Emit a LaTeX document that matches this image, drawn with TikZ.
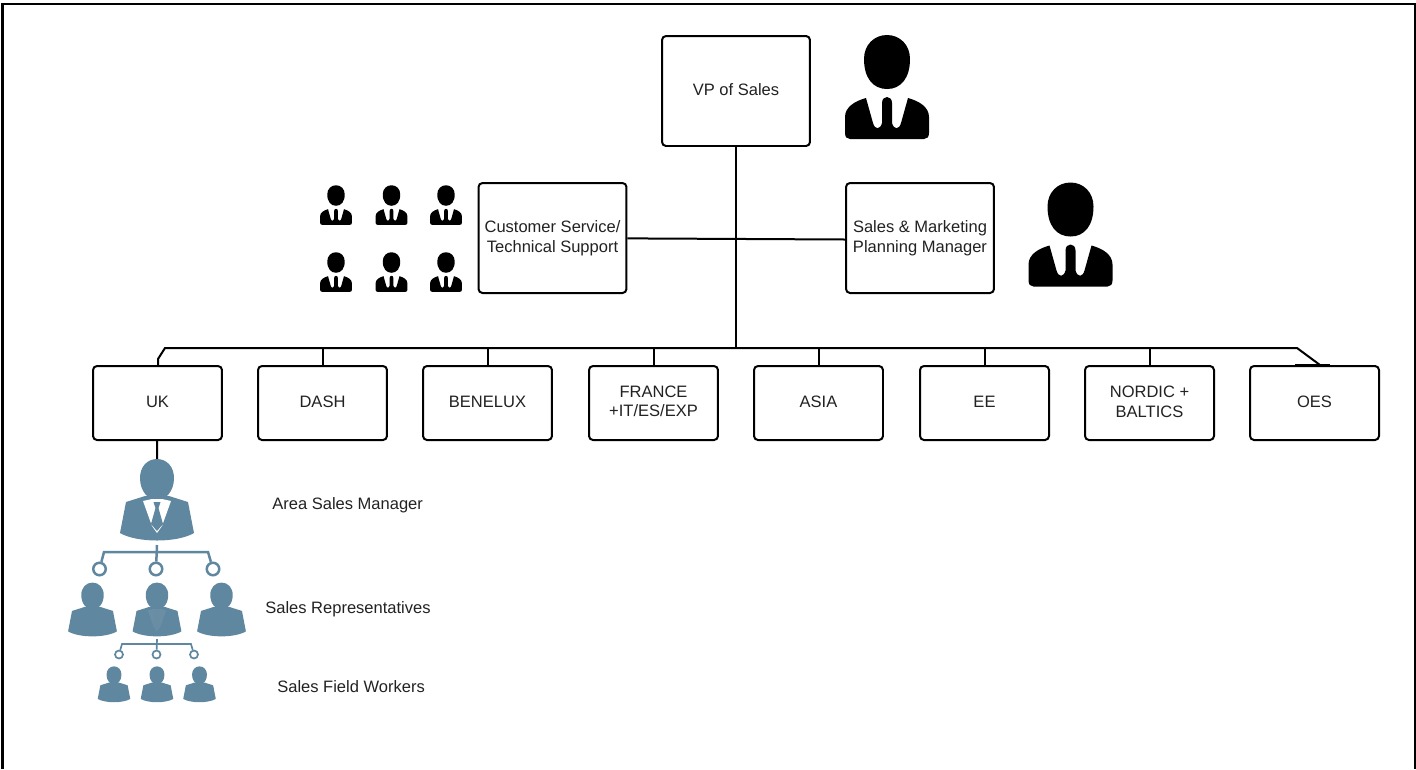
\documentclass[tikz,border=0pt]{standalone}
\usepackage{fontspec}
\setmainfont{Liberation Sans}
\definecolor{iconblue}{HTML}{5F879F}
\definecolor{textgrey}{HTML}{222222}
\tikzset{
  pics/blackman/.style={code={
    \fill[black] (0,-52) .. controls (-13,-52) and (-23,-42) .. (-23,-28)
      .. controls (-23,-9) and (-14,2) .. (0,2)
      .. controls (14,2) and (23,-9) .. (23,-28)
      .. controls (23,-42) and (13,-52) .. (0,-52) -- cycle;
    \fill[black] (-42,38) -- (-42,30) .. controls (-42,20) and (-32,14) .. (-21,11)
      -- (-14,36) .. controls (-12,43) and (-7,43) .. (-5,36) -- (-5,16)
      .. controls (-5,8) and (5,8) .. (5,16) -- (5,36)
      .. controls (7,43) and (12,43) .. (14,36) -- (21,11)
      .. controls (32,14) and (42,20) .. (42,30) -- (42,46)
      .. controls (42,50) and (40,52) .. (37,52) -- (-37,52)
      .. controls (-40,52) and (-42,50) .. (-42,46) -- cycle;
  }},
  pics/bluebody/.style={code={
    \fill[iconblue] (0,-31) .. controls (-10,-31) and (-17,-23) .. (-17,-12)
      .. controls (-17,1) and (-9,10) .. (0,10)
      .. controls (9,10) and (17,1) .. (17,-12)
      .. controls (17,-23) and (10,-31) .. (0,-31) -- cycle;
    \fill[iconblue] (-12,6) -- (-31,12) -- (-37,43)
      .. controls (-20,53) and (20,53) .. (37,43)
      -- (31,12) -- (12,6) -- cycle;
  }},
  pics/bluesuit/.style={code={
    \fill[white] (-14,11) -- (-5,9) -- (5,9) -- (14,11) -- (5,36) -- (0,43) -- (-5,36) -- cycle;
    \fill[iconblue] (-3.5,12) -- (3.5,12) -- (1.5,18) -- (6,34) -- (0,41) -- (-6,34) -- (-1.5,18) -- cycle;
  }},
  boxnode/.style={draw=black,line width=0.04cm,rounded corners=0.08cm,fill=white,align=center,
    text=textgrey,font=\fontsize{9.4pt}{11.2pt}\selectfont,inner sep=0pt},
  topbox/.style={boxnode,minimum width=2.96cm,minimum height=2.2cm},
  rowbox/.style={boxnode,minimum width=2.58cm,minimum height=1.48cm,text depth=1.2pt},
  linkline/.style={draw=black,line width=0.04cm},
  labeltext/.style={text=textgrey,font=\fontsize{9.4pt}{11.2pt}\selectfont,inner sep=0pt},
  bluebig/.style={draw=iconblue,line width=0.05cm,fill=white,circle,minimum size=0.25cm,inner sep=0pt},
  bluesmall/.style={draw=iconblue,line width=0.034cm,fill=white,circle,minimum size=0.16cm,inner sep=0pt},
  bigtree/.style={draw=iconblue,line width=0.05cm},
  smalltree/.style={draw=iconblue,line width=0.034cm}
}
\begin{document}
\begin{tikzpicture}[x=0.02cm,y=-0.02cm]

      \useasboundingbox (0,0) rectangle (1416,769);
      \draw[black,line width=0.06cm] (2.5,769) -- (2.5,3);
      \draw[black,line width=0.05cm] (1,4) -- (1415,4);
      \draw[black,line width=0.03cm] (1415,3) -- (1415,769);

      \begin{scope}[every node/.style={topbox}]
        \node[text depth=1.2pt] (vp) at (736,91) {VP of Sales};
        \node (service) at (552.5,238) {Customer Service/\\Technical Support};
        \node (planning) at (920,238) {Sales \& Marketing\\Planning Manager};
      \end{scope}

      \begin{scope}[every node/.style={rowbox}]
        \node (uk) at (157.5,403) {UK};
        \node (dash) at (322.5,403) {DASH};
        \node (benelux) at (487.5,403) {BENELUX};
        \node[text depth=2.2pt] (france) at (653.5,403) {FRANCE\\+IT/ES/EXP};
        \node (asia) at (818.5,403) {ASIA};
        \node (ee) at (984.5,403) {EE};
        \node (nordic) at (1149.5,403) {NORDIC +\\BALTICS};
        \node (oes) at (1314.5,403) {OES};
      \end{scope}

      \coordinate (trunk) at (736,348);
      \coordinate (busleft) at (165,348);
      \coordinate (busright) at (1297,348);
      \coordinate (ukbend) at (158,359);
      \coordinate (oesfoot) at (1320,365);
      \coordinate (oesbarleft) at (1295,365.5);
      \coordinate (oesbarright) at (1330,365.5);
      \coordinate (ukicon) at (157,460);
      \coordinate (planningend) at (846,239.5);

      \begin{scope}[every path/.style={linkline}]
        \path (vp) -- (trunk);
        \path (service) -- (planningend);
        \path (uk.north -| ukbend) -- (ukbend) -- (busleft) -- (busright) -- (oesfoot);
        \path (dash) -- (dash |- trunk);
        \path (benelux) -- (benelux |- trunk);
        \path (france) -- (france |- trunk);
        \path (asia) -- (asia |- trunk);
        \path (ee) -- (ee |- trunk);
        \path (nordic) -- (nordic |- trunk);
        \path (uk) -- (ukicon);
      \end{scope}
      \draw[black,line width=0.07cm] (oesbarleft) -- (oesbarright);

      \pic at (887,87) {blackman};
      \pic at (1070.5,234.5) {blackman};
      \pic[scale=0.38] at (336,205) {blackman};
      \pic[scale=0.38] at (391.5,205) {blackman};
      \pic[scale=0.38] at (446,205) {blackman};
      \pic[scale=0.38] at (336,272) {blackman};
      \pic[scale=0.38] at (391.5,272) {blackman};
      \pic[scale=0.38] at (446,272) {blackman};

      \pic at (157,490) {bluebody};
      \pic at (157,490) {bluesuit};
      \pic[scale=0.66] at (92.5,603) {bluebody};
      \pic[scale=0.66] at (157,603) {bluebody};
      \pic[scale=0.66,opacity=0.07] at (157,603) {bluesuit};
      \pic[scale=0.66] at (221.5,603) {bluebody};
      \pic[scale=0.44] at (114,680) {bluebody};
      \pic[scale=0.44] at (157,680) {bluebody};
      \pic[scale=0.44] at (199.5,680) {bluebody};

      \node[bluebig] (repringa) at (99.5,569) {};
      \node[bluebig] (repringb) at (156,569) {};
      \node[bluebig] (repringc) at (213,569) {};
      \coordinate (reptop) at (157,545);
      \coordinate (repleft) at (104,552);
      \coordinate (repright) at (208,552);
      \draw[bigtree] (reptop) -- (repringb);
      \draw[bigtree] (repringa) -- (repleft) -- (repright) -- (repringc);

      \node[bluesmall] (fieldringa) at (119,654.5) {};
      \node[bluesmall] (fieldringb) at (156.5,654.5) {};
      \node[bluesmall] (fieldringc) at (194,654.5) {};
      \coordinate (fieldtop) at (157,639);
      \coordinate (fieldleft) at (122,644);
      \coordinate (fieldright) at (191,644);
      \draw[smalltree] (fieldtop) -- (fieldringb);
      \draw[smalltree] (fieldringa) -- (fieldleft) -- (fieldright) -- (fieldringc);

      \begin{scope}[every node/.style={labeltext,anchor=west}]
        \node (asmlabel) at (272,505) {Area Sales Manager};
        \node (replabel) at (265,609) {Sales Representatives};
        \node (fieldlabel) at (277,687) {Sales Field Workers};
      \end{scope}

    \end{tikzpicture}
\end{document}
